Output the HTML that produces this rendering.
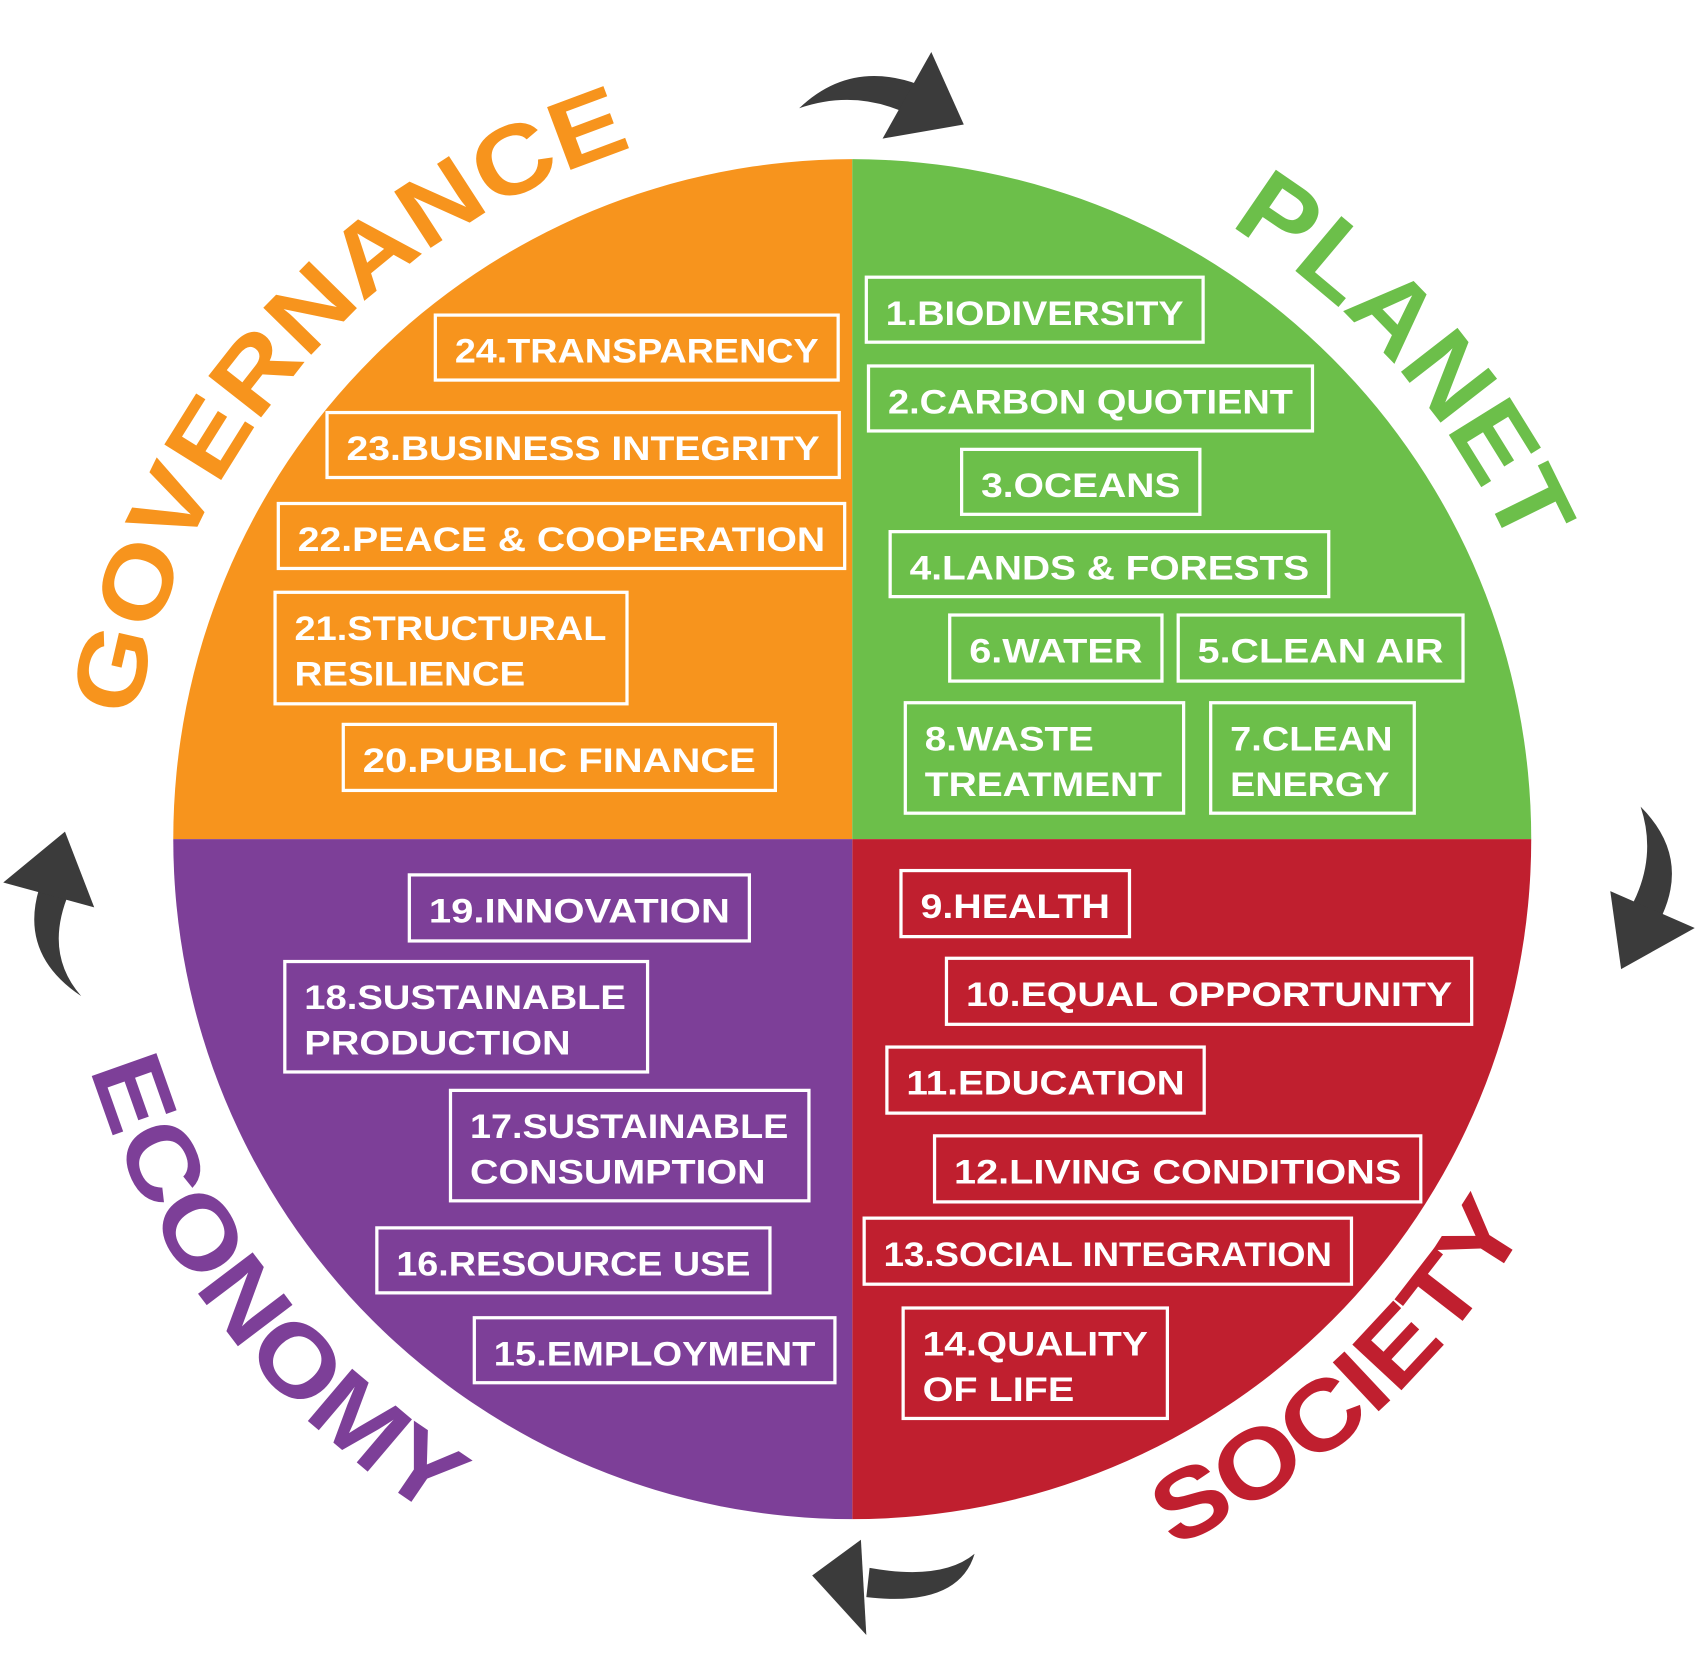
<!DOCTYPE html>
<html><head><meta charset="utf-8"><style>html,body{margin:0;padding:0;background:#fff}svg{display:block}</style></head>
<body>
<svg width="1698" height="1674" viewBox="0 0 1568 1546" preserveAspectRatio="none" xmlns="http://www.w3.org/2000/svg" font-family="Liberation Sans, sans-serif" font-weight="bold">
<defs>
<path id="pg" d="M117,775 A670,670 0 0 1 787,105"/>
<path id="pp" d="M787,110 A665,665 0 0 1 1452,775"/>
<path id="pe" d="M52,775 A735,735 0 0 0 787,1510"/>
<path id="ps" d="M787,1493 A718,718 0 0 0 1505,775"/>
</defs>
<path d="M787,775 L160,775 A627,628 0 0 1 787,147 Z" fill="#f7941d"/>
<path d="M787,775 L787,147 A627,628 0 0 1 1414,775 Z" fill="#6cbf4a"/>
<path d="M787,775 L1414,775 A627,628 0 0 1 787,1403 Z" fill="#c01f2f"/>
<path d="M787,775 L787,1403 A627,628 0 0 1 160,775 Z" fill="#7d3f98"/>

<text font-size="90" fill="#f7941d"><textPath href="#pg" startOffset="112" textLength="735" lengthAdjust="spacingAndGlyphs">GOVERNANCE</textPath></text>
<text font-size="96" fill="#6cbf4a"><textPath href="#pp" startOffset="366" textLength="405" lengthAdjust="spacingAndGlyphs">PLANET</textPath></text>
<text font-size="92" fill="#7d3f98"><textPath href="#pe" startOffset="215" textLength="535" lengthAdjust="spacingAndGlyphs">ECONOMY</textPath></text>
<text font-size="90" fill="#c01f2f"><textPath href="#ps" startOffset="305" textLength="450" lengthAdjust="spacingAndGlyphs">SOCIETY</textPath></text>

<g fill="#3b3b3b">
<path d="M738,100 Q785,55 848,78 L840,106 Q790,82 738,100 Z"/>
<polygon points="860,48 890,115 815,128"/>
<path d="M1515,745 Q1560,790 1535,845 L1508,834 Q1530,790 1515,745 Z"/>
<polygon points="1487,823 1565,857 1497,895"/>
<path d="M900,1435 Q885,1485 800,1475 L803,1448 Q870,1460 900,1435 Z"/>
<polygon points="795,1422 750,1455 800,1510"/>
<path d="M75,920 Q15,880 38,815 L64,824 Q40,880 75,920 Z"/>
<polygon points="3,815 60,768 87,838"/>
</g>

<g fill="none" stroke="#fff" stroke-width="3">
<rect x="402" y="291" width="372" height="60"/>
<rect x="302" y="381" width="473" height="60"/>
<rect x="257" y="465" width="523" height="60"/>
<rect x="254" y="547" width="325" height="103"/>
<rect x="317" y="669" width="399" height="61"/>
<rect x="800" y="256" width="311" height="60"/>
<rect x="802" y="338" width="410" height="60"/>
<rect x="888" y="415" width="220" height="60"/>
<rect x="822" y="491" width="405" height="60"/>
<rect x="877" y="568" width="196" height="61"/>
<rect x="1088" y="568" width="263" height="61"/>
<rect x="836" y="649" width="257" height="102"/>
<rect x="1118" y="649" width="188" height="102"/>
<rect x="378" y="808" width="314" height="61"/>
<rect x="263" y="888" width="335" height="102"/>
<rect x="416" y="1007" width="331" height="102"/>
<rect x="348" y="1134" width="363" height="60"/>
<rect x="438" y="1217" width="333" height="60"/>
<rect x="832" y="804" width="211" height="61"/>
<rect x="874" y="885" width="485" height="61"/>
<rect x="819" y="967" width="293" height="61"/>
<rect x="863" y="1049" width="449" height="61"/>
<rect x="798" y="1125" width="450" height="61"/>
<rect x="834" y="1208" width="244" height="102"/>
</g>

<g fill="#fff" font-size="32">
<text x="420" y="335" textLength="336" lengthAdjust="spacingAndGlyphs">24.TRANSPARENCY</text>
<text x="320" y="425" textLength="437" lengthAdjust="spacingAndGlyphs">23.BUSINESS INTEGRITY</text>
<text x="275" y="509" textLength="487" lengthAdjust="spacingAndGlyphs">22.PEACE &amp; COOPERATION</text>
<text x="272" y="591" textLength="288" lengthAdjust="spacingAndGlyphs">21.STRUCTURAL</text>
<text x="272" y="633" textLength="213" lengthAdjust="spacingAndGlyphs">RESILIENCE</text>
<text x="335" y="713" textLength="363" lengthAdjust="spacingAndGlyphs">20.PUBLIC FINANCE</text>
<text x="818" y="300" textLength="275" lengthAdjust="spacingAndGlyphs">1.BIODIVERSITY</text>
<text x="820" y="382" textLength="374" lengthAdjust="spacingAndGlyphs">2.CARBON QUOTIENT</text>
<text x="906" y="459" textLength="184" lengthAdjust="spacingAndGlyphs">3.OCEANS</text>
<text x="840" y="535" textLength="369" lengthAdjust="spacingAndGlyphs">4.LANDS &amp; FORESTS</text>
<text x="895" y="612" textLength="160" lengthAdjust="spacingAndGlyphs">6.WATER</text>
<text x="1106" y="612" textLength="227" lengthAdjust="spacingAndGlyphs">5.CLEAN AIR</text>
<text x="854" y="693" textLength="156" lengthAdjust="spacingAndGlyphs">8.WASTE</text>
<text x="854" y="735" textLength="219" lengthAdjust="spacingAndGlyphs">TREATMENT</text>
<text x="1136" y="693" textLength="150" lengthAdjust="spacingAndGlyphs">7.CLEAN</text>
<text x="1136" y="735" textLength="147" lengthAdjust="spacingAndGlyphs">ENERGY</text>
<text x="396" y="852" textLength="278" lengthAdjust="spacingAndGlyphs">19.INNOVATION</text>
<text x="281" y="932" textLength="297" lengthAdjust="spacingAndGlyphs">18.SUSTAINABLE</text>
<text x="281" y="974" textLength="246" lengthAdjust="spacingAndGlyphs">PRODUCTION</text>
<text x="434" y="1051" textLength="294" lengthAdjust="spacingAndGlyphs">17.SUSTAINABLE</text>
<text x="434" y="1093" textLength="273" lengthAdjust="spacingAndGlyphs">CONSUMPTION</text>
<text x="366" y="1178" textLength="327" lengthAdjust="spacingAndGlyphs">16.RESOURCE USE</text>
<text x="456" y="1261" textLength="297" lengthAdjust="spacingAndGlyphs">15.EMPLOYMENT</text>
<text x="850" y="848" textLength="175" lengthAdjust="spacingAndGlyphs">9.HEALTH</text>
<text x="892" y="929" textLength="449" lengthAdjust="spacingAndGlyphs">10.EQUAL OPPORTUNITY</text>
<text x="837" y="1011" textLength="257" lengthAdjust="spacingAndGlyphs">11.EDUCATION</text>
<text x="881" y="1093" textLength="413" lengthAdjust="spacingAndGlyphs">12.LIVING CONDITIONS</text>
<text x="816" y="1169" textLength="414" lengthAdjust="spacingAndGlyphs">13.SOCIAL INTEGRATION</text>
<text x="852" y="1252" textLength="208" lengthAdjust="spacingAndGlyphs">14.QUALITY</text>
<text x="852" y="1294" textLength="140" lengthAdjust="spacingAndGlyphs">OF LIFE</text>
</g>
</svg>
</body></html>
